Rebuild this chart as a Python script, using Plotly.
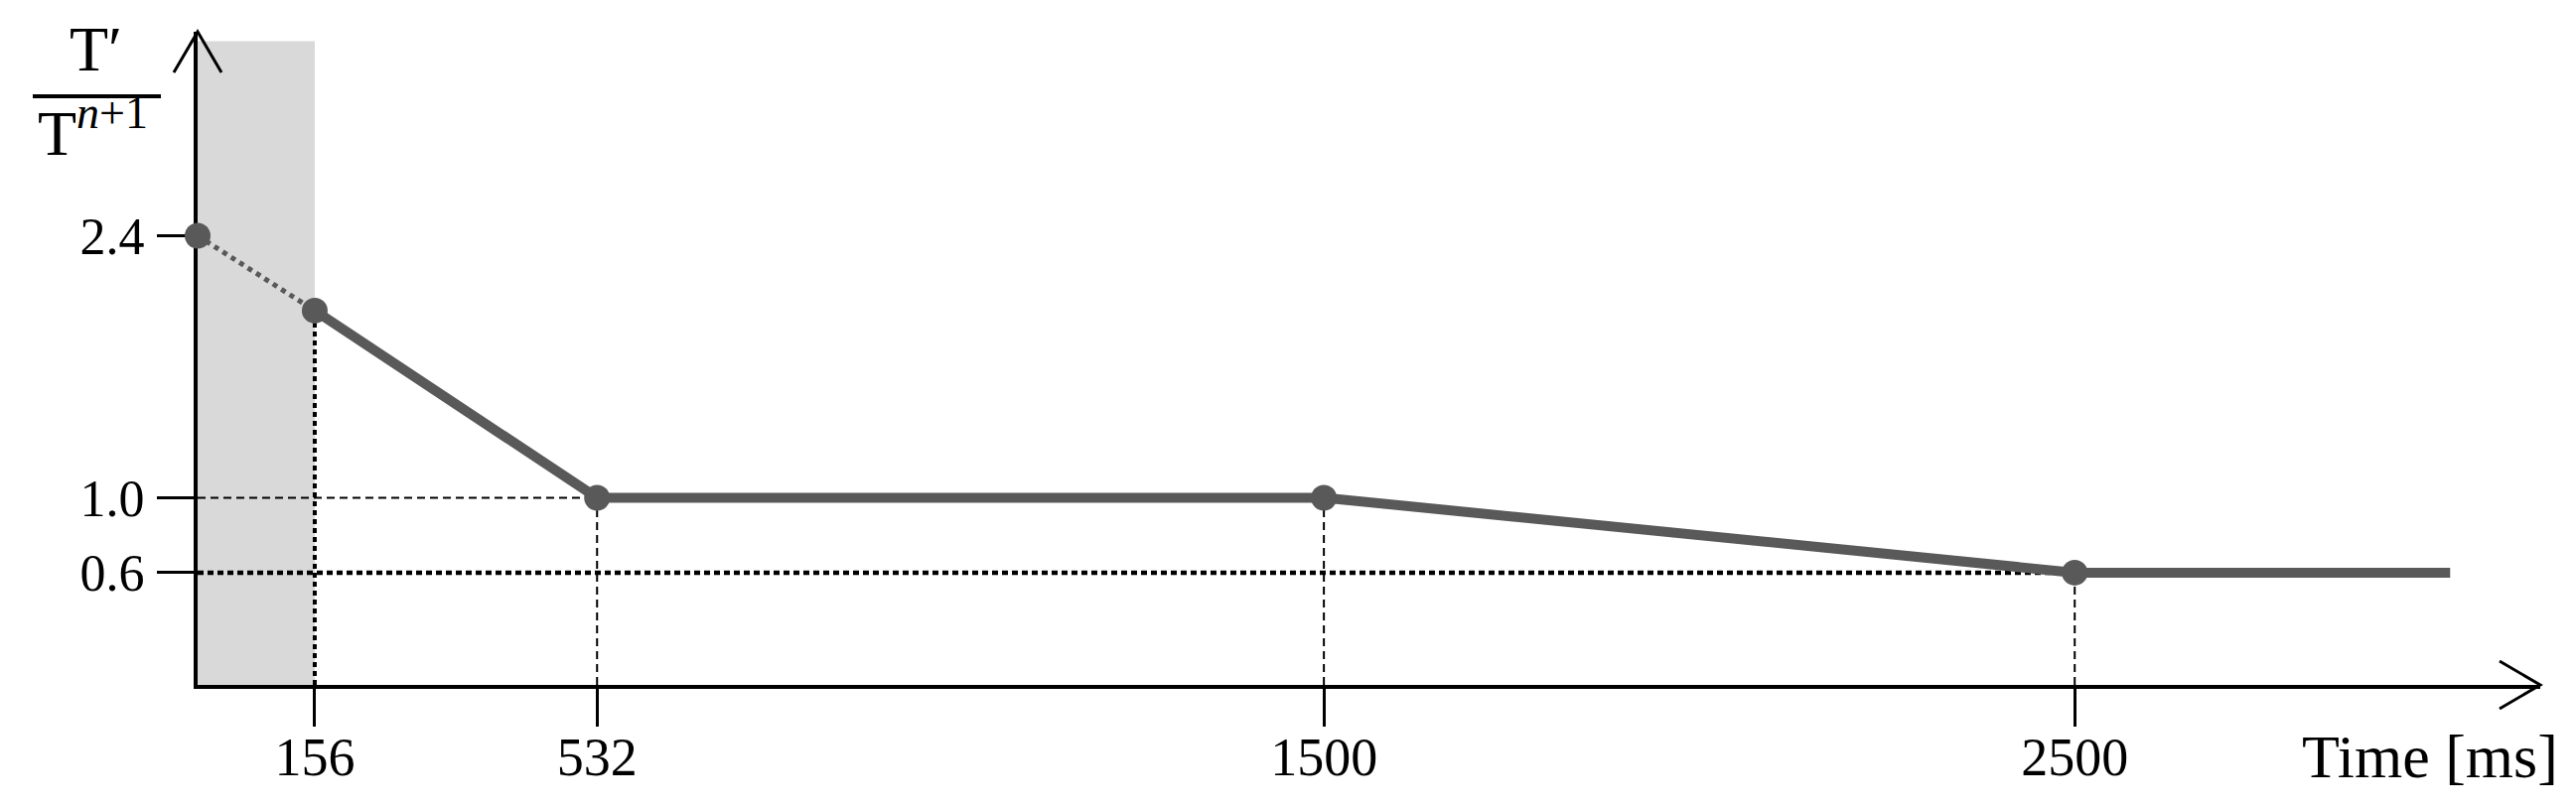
import plotly.graph_objects as go

# valeurs
time_ms = [0, 156, 532, 1500, 2500, 3000]
ratio = [2.4, 2.0, 1.0, 1.0, 0.6, 0.6]
x_ticks = [156, 532, 1500, 2500]
y_ticks = [2.4, 1.0, 0.6]
y_ticktext = ["2.4", "1.0", "0.6"]
shaded_end = 156

FONT = "Liberation Serif"
GREY = "#595959"

x_max = 3120
y_max = 3.49

# cadre du tracé en pixels de la fenêtre (la page ajoute une marge de 8 px)
OFF = 8
W, H = 2594 - 2 * OFF, 815 - 2 * OFF
PX0, PX1, PY0, PY1 = 199, 2558, 32, 690


def px(xw):
    return (xw - PX0) / (PX1 - PX0)


def py(yw):
    return (PY1 - yw) / (PY1 - PY0)


fig = go.Figure()

# zone grisée
fig.add_shape(type="rect", x0=0, x1=shaded_end, y0=0, y1=3.44,
              fillcolor="#d9d9d9", line_width=0, layer="below")

# lignes de repère verticales
for xv in x_ticks:
    yv = ratio[time_ms.index(xv)]
    thick = xv == shaded_end
    fig.add_trace(go.Scatter(
        x=[xv, xv], y=[0, yv], mode="lines", showlegend=False, hoverinfo="skip",
        line=dict(color="black", width=4 if thick else 2,
                  dash="5px,4px" if thick else "8px,5px")))

# lignes de repère horizontales
for yv in y_ticks:
    if yv == ratio[0]:
        continue
    xv = time_ms[ratio.index(yv)]
    thick = yv == 0.6
    fig.add_trace(go.Scatter(
        x=[0, xv], y=[yv, yv], mode="lines", showlegend=False, hoverinfo="skip",
        line=dict(color="black", width=4.5 if thick else 2,
                  dash="6px,4px" if thick else "8px,5px")))

# segment pointillé initial
fig.add_trace(go.Scatter(
    x=time_ms[:2], y=ratio[:2], mode="lines", showlegend=False,
    line=dict(color=GREY, width=5, dash="5px,5px"), cliponaxis=False))

# courbe principale
fig.add_trace(go.Scatter(
    x=time_ms[1:], y=ratio[1:], mode="lines", showlegend=False,
    line=dict(color=GREY, width=10), cliponaxis=False))

# points
fig.add_trace(go.Scatter(
    x=time_ms[:5], y=ratio[:5], mode="markers", showlegend=False,
    marker=dict(color=GREY, size=26), cliponaxis=False))

# flèches des axes (repère papier, pas de découpage)
fig.add_shape(type="path", xref="paper", yref="paper", xsizemode="pixel", ysizemode="pixel",
              xanchor=1, yanchor=0, path="M -41,24 L 0,0 L -41,-24",
              line=dict(color="black", width=3))
fig.add_shape(type="path", xref="paper", yref="paper", xsizemode="pixel", ysizemode="pixel",
              xanchor=0, yanchor=1, path="M -24,-41 L 0,0 L 24,-41",
              line=dict(color="black", width=3))

# étiquette de l'axe y (fraction)
fig.add_shape(type="line", xref="paper", yref="paper",
              x0=px(33), x1=px(162), y0=py(97), y1=py(97),
              line=dict(color="black", width=4))
fig.add_annotation(xref="paper", yref="paper", x=px(96), y=py(49),
                   text="T′", showarrow=False, xanchor="center", yanchor="middle",
                   font=dict(family=FONT, size=64, color="black"))
fig.add_annotation(xref="paper", yref="paper", x=px(94), y=py(129),
                   text="T<sup><span style='font-size:46px'><i>n</i>+1</span></sup>",
                   showarrow=False, xanchor="center", yanchor="middle",
                   font=dict(family=FONT, size=64, color="black"))

# titre de l'axe x
fig.add_annotation(xref="paper", yref="paper", x=px(2578), y=py(762),
                   text="Time [ms]", showarrow=False, xanchor="right", yanchor="middle",
                   font=dict(family=FONT, size=62, color="black"))

fig.update_xaxes(range=[0, x_max], showgrid=False, zeroline=False,
                 showline=True, linecolor="black", linewidth=4, automargin=False,
                 tickmode="array", tickvals=x_ticks, ticks="outside",
                 ticklen=38, tickwidth=3, tickcolor="black",
                 tickfont=dict(family=FONT, size=54, color="black"),
                 ticklabelstandoff=-16, layer="below traces")
fig.update_yaxes(range=[0, y_max], showgrid=False, zeroline=False,
                 showline=True, linecolor="black", linewidth=4, automargin=False,
                 tickmode="array", tickvals=y_ticks, ticktext=y_ticktext,
                 ticks="outside", ticklen=37, tickwidth=3, tickcolor="black",
                 tickfont=dict(family=FONT, size=52, color="black"),
                 ticklabelstandoff=2, layer="below traces")

fig.update_layout(
    width=W, height=H,
    margin=dict(l=PX0 - OFF, r=W - (PX1 - OFF), t=PY0 - OFF, b=H - (PY1 - OFF)),
    paper_bgcolor="white", plot_bgcolor="white",
    showlegend=False,
)

fig.write_html("out.html")
